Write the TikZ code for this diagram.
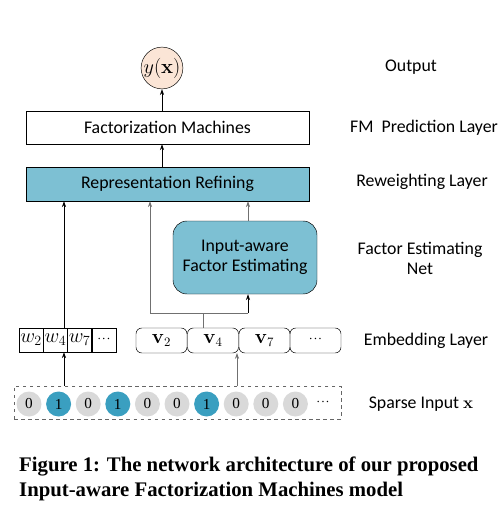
\documentclass[tikz,border=0pt]{standalone}
\usepackage[no-math]{fontspec}
\setmainfont{Carlito}
\newfontfamily\capfont{Liberation Serif}
\usetikzlibrary{arrows.meta}
\definecolor{refine}{HTML}{7DC0D3}
\definecolor{outfill}{HTML}{FBE5D6}
\definecolor{onefill}{HTML}{3A9FC0}
\definecolor{zerofill}{HTML}{D9D9D9}
\definecolor{linkgray}{HTML}{707070}
\newcommand{\moredots}{{\capfont\bfseries\fontsize{13}{13}\selectfont\raisebox{0.25ex}{$\cdot\!\cdot\!\cdot$}}}

\begin{document}
\begin{tikzpicture}[x=0.03cm,y=-0.03cm,
    font=\fontsize{15.2}{17}\selectfont,
    arr/.style={-{Stealth[length=5pt,width=3.5pt]}, semithick},
    layer/.style={draw, minimum width=283*0.03cm, minimum height=33*0.03cm, inner sep=0},
    wcell/.style={draw, minimum width=24.25*0.03cm, minimum height=24*0.03cm, inner sep=0, font=\fontsize{17}{17}\selectfont},
    vcell/.style={draw, rounded corners=5pt, minimum width=51*0.03cm, minimum height=25*0.03cm, inner sep=0, font=\fontsize{16}{16}\selectfont},
    bit/.style={circle, minimum size=25*0.03cm, inner sep=0, font=\capfont\fontsize{13}{13}\selectfont},
    side/.style={align=center}]
    \useasboundingbox (0,0) rectangle (502,513);

    % network
    \node[circle, draw, fill=outfill, minimum size=41*0.03cm, inner sep=0] (out) at (162,68) {\fontsize{17}{17}\selectfont$y(\mathbf{x})$};
    \node[layer, fill=white] (fm) at (167.5,127.5) {Factorization Machines};
    \node[layer, fill=refine, minimum height=34*0.03cm] (rr) at (167.5,184) {Representation Refining};
    \node[draw, fill=refine, rounded corners=12pt, minimum width=144*0.03cm, minimum height=73*0.03cm, align=center] (fe) at (245,257.5) {Input-aware\\Factor Estimating};

    % embeddings
    \node[wcell] (w2) at (31.1,340) {$w_2$};
    \node[wcell] (w4) at (55.4,340) {$w_4$};
    \node[wcell] (w7) at (79.6,340) {$w_7$};
    \node[wcell] (wd) at (103.9,340) {\moredots};
    \node[vcell] (v2) at (161.5,340.5) {$\mathbf{v}_2$};
    \node[vcell] (v4) at (213,340.5) {$\mathbf{v}_4$};
    \node[vcell] (v7) at (264.5,340.5) {$\mathbf{v}_7$};
    \node[vcell] (vd) at (315.5,340.5) {\moredots};

    % sparse input
    \node[draw, dashed, gray!80!black, minimum width=327*0.03cm, minimum height=33*0.03cm] (in) at (177.5,402.5) {};
    \foreach \b [count=\i from 0] in {0,1,0,1,0,0,1,0,0,0} {
        \ifnum\b=1
            \node[bit, fill=onefill] (x\i) at (29+29.6*\i,404) {1};
        \else
            \node[bit, fill=zerofill] (x\i) at (29+29.6*\i,404) {0};
        \fi
    }
    \node (xd) at (323,403) {\moredots};

    % links
    \coordinate (wtap) at (64,328);
    \coordinate (vtap) at (237,353);
    \coordinate (split) at (203,313);
    \coordinate (lbend) at (150,313);
    \coordinate (rbend) at (248,313);

    \draw[arr] (out |- fm.north) -- (out.south);
    \draw[arr] (out |- rr.north) -- (out |- fm.south);
    \draw[arr] (in.north -| wtap) -- (w4.south -| wtap);
    \draw[arr] (wtap) -- (wtap |- rr.south);
    \draw[arr, linkgray] (in.north -| vtap) -- (vtap);
    \draw[linkgray, semithick] (v4.north -| split) -- (split);
    \draw[linkgray, semithick] (lbend) -- (rbend);
    \draw[arr, linkgray] (lbend) -- (lbend |- rr.south);
    \draw[arr] (rbend) -- (rbend |- fe.south);
    \draw[arr, linkgray] (fe.north -| rbend) -- (rbend |- rr.south);

    % layer names
    \node[side] (l1) at (411,67) {Output};
    \node[side] (l2) at (424,128) {FM\ \ Prediction Layer};
    \node[side] (l3) at (422,182) {Reweighting Layer};
    \node[side] (l4) at (420,258) {Factor Estimating\\Net};
    \node[side] (l5) at (426,341) {Embedding Layer};
    \node[side] (l6) at (421,404) {Sparse Input $\mathbf{x}$};

    % caption
    \node[anchor=west, align=left, inner sep=0, font=\capfont\bfseries\fontsize{17.7}{22}\selectfont] (cap) at (19,479)
        {Figure 1: The network architecture of our proposed\\Input-aware Factorization Machines model};
\end{tikzpicture}
\end{document}
